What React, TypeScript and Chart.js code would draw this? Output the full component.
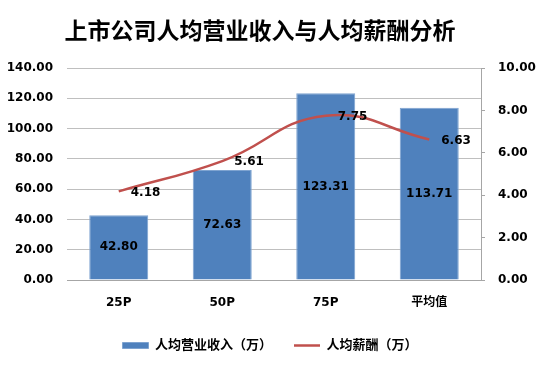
import React, { useEffect, useRef } from "react";
import { Chart, registerables } from "chart.js";

Chart.register(...registerables);

const title = "上市公司人均营业收入与人均薪酬分析";
const categories = ["25P", "50P", "75P", "平均值"];
const revenueLabel = "人均营业收入（万）";
const salaryLabel = "人均薪酬（万）";
const revenue = [42.8, 72.63, 123.31, 113.71];
const salary = [4.18, 5.61, 7.75, 6.63];
const leftTicks = { min: 0, max: 140, step: 20 };
const rightTicks = { min: 0, max: 10, step: 2 };

const NUM_FONT = "'DejaVu Sans', 'Noto Sans CJK SC', sans-serif";

const titlePlugin = {
  id: "customTitle",
  afterDraw(chart: any) {
    const ctx = chart.ctx;
    ctx.save();
    ctx.font = "bold 23px 'Noto Sans CJK SC', sans-serif";
    ctx.fillStyle = "#000";
    ctx.textAlign = "center";
    ctx.textBaseline = "middle";
    ctx.fillText(title, 260, 30);
    ctx.restore();
  },
};

const dataLabelPlugin = {
  id: "dataLabels",
  afterDatasetsDraw(chart: any) {
    const ctx = chart.ctx;
    ctx.save();
    ctx.font = `bold 12px ${NUM_FONT}`;
    ctx.fillStyle = "#000";
    ctx.textBaseline = "middle";
    chart.data.datasets.forEach((ds: any, di: number) => {
      const meta = chart.getDatasetMeta(di);
      meta.data.forEach((el: any, i: number) => {
        const v = (ds.data[i] as number).toFixed(2);
        if (ds.type === "bar") {
          ctx.textAlign = "center";
          ctx.fillText(v, el.x, (el.y + el.base) / 2);
        } else {
          ctx.textAlign = "left";
          ctx.fillText(v, el.x + 12, el.y + 1);
        }
      });
    });
    ctx.restore();
  },
};

export default function App() {
  const ref = useRef<HTMLCanvasElement>(null);
  useEffect(() => {
    if (!ref.current) return;
    const chart = new Chart(ref.current, {
      type: "bar",
      data: {
        labels: categories,
        datasets: [
          {
            type: "line",
            label: salaryLabel,
            data: salary,
            yAxisID: "y1",
            borderColor: "#C0504D",
            backgroundColor: "#C0504D",
            borderWidth: 2.5,
            pointRadius: 0,
            tension: 0.45,
            pointStyle: "line",
            order: 0,
          } as any,
          {
            type: "bar",
            label: revenueLabel,
            data: revenue,
            yAxisID: "y",
            backgroundColor: "#4F81BD",
            borderColor: "#7EA3D0",
            borderWidth: 1,
            categoryPercentage: 1,
            barPercentage: 0.57,
            pointStyle: "rect",
            order: 1,
          } as any,
        ],
      },
      options: {
        responsive: false,
        animation: false,
        layout: { padding: { top: 68, bottom: 10, left: 0, right: 0 } },
        plugins: {
          title: { display: false },
          legend: {
            position: "bottom",
            reverse: true,
            labels: {
              usePointStyle: true,
              pointStyleWidth: 26,
              boxHeight: 6,
              color: "#000",
              padding: 22,
              font: { family: NUM_FONT, size: 13, weight: "bold" },
            },
          },
          tooltip: { enabled: false },
        },
        scales: {
          x: {
            grid: { display: false, drawTicks: false },
            border: { display: true, color: "#A6A6A6" },
            afterFit: (s: any) => { s.height = 37; },
            ticks: {
              color: "#000",
              padding: 16,
              font: { family: NUM_FONT, size: 12, weight: "bold" },
            },
          },
          y: {
            position: "left",
            min: leftTicks.min,
            max: leftTicks.max,
            grid: { color: "#BFBFBF", drawTicks: false },
            border: { display: false },
            afterFit: (s: any) => { s.width = 67; },
            ticks: {
              stepSize: leftTicks.step,
              padding: 14,
              color: "#000",
              font: { family: NUM_FONT, size: 12, weight: "bold" },
              callback: (v: any) => Number(v).toFixed(2),
            },
          },
          y1: {
            position: "right",
            min: rightTicks.min,
            max: rightTicks.max,
            grid: { drawOnChartArea: false, color: "#A6A6A6", tickLength: 4 },
            border: { display: true, color: "#A6A6A6" },
            afterFit: (s: any) => { s.width = 59; },
            ticks: {
              stepSize: rightTicks.step,
              padding: 13,
              color: "#000",
              font: { family: NUM_FONT, size: 12, weight: "bold" },
              callback: (v: any) => Number(v).toFixed(2),
            },
          },
        },
      },
      plugins: [dataLabelPlugin, titlePlugin],
    });
    return () => chart.destroy();
  }, []);
  return (
    <div style={{ position: "fixed", left: 0, top: 0, width: 540, height: 372, background: "#fff" }}>
      <canvas ref={ref} width={540} height={372} />
    </div>
  );
}
